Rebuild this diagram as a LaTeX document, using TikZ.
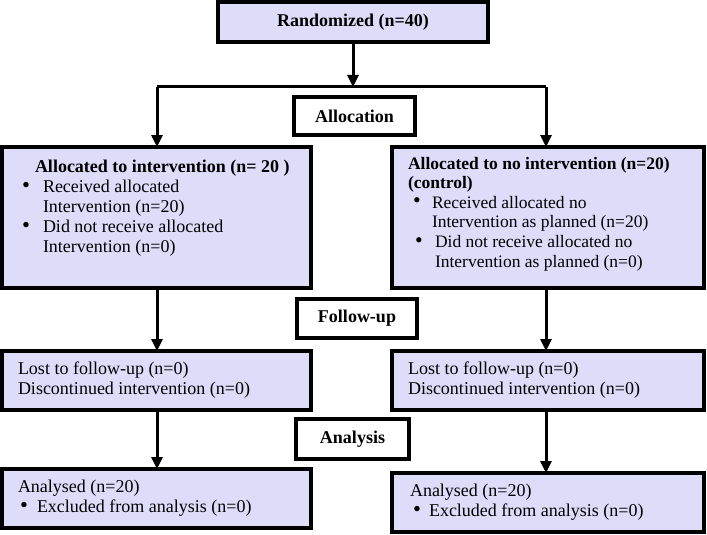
\documentclass[tikz,border=0pt]{standalone}
\usepackage{fontspec}
\setmainfont{Liberation Serif}
\usetikzlibrary{arrows.meta}
\definecolor{boxfill}{RGB}{221,221,250}
\newcommand\bigbul{\raisebox{0.05ex}{\scalebox{1.25}{\textbullet}}}
% #1 hanging indent, #2 bullet offset, #3 text
\newcommand\bitem[3]{\par\hangindent=#1\hangafter=1\noindent\makebox[#1][l]{\hspace{#2}\bigbul}#3}
\begin{document}
\begin{tikzpicture}[x=1pt,y=-1pt,
  every node/.style={font=\fontsize{18}{20}\selectfont},
  box/.style={draw=black, line width=4pt, fill=boxfill, inner sep=0pt, outer sep=0pt, align=left},
  stage/.style={draw=black, line width=4pt, fill=white, inner sep=0pt, outer sep=0pt, font=\fontsize{18}{20}\selectfont\bfseries},
  arr/.style={line width=3pt, -{Triangle[length=12pt,width=11pt]}},
  ln/.style={line width=3pt}]
\useasboundingbox (0,0) rectangle (707,535);

% top
\node[box, align=center, minimum width=270pt, minimum height=40pt, font=\fontsize{18}{20}\selectfont\bfseries] (rand) at (353,22) {Randomized (n=40)};
\coordinate (split) at (353,87);
\coordinate (splitL) at (157,87);
\coordinate (splitR) at (546,87);
\node[stage, minimum width=121pt, minimum height=38pt] (alloc) at (354.5,116) {Allocation};

% allocation boxes
\node[box, minimum width=309pt, minimum height=141pt] (a1) at (156.5,217.5)
 {\parbox[c][141pt][t]{309pt}{\vspace*{13pt}\noindent\hspace*{33pt}\textbf{Allocated to intervention (n= 20 )}%
 \bitem{41pt}{20pt}{Received allocated\\Intervention (n=20)}%
 \bitem{41pt}{20pt}{Did not receive allocated\\Intervention (n=0)}}};
\node[box, minimum width=312pt, minimum height=141pt, font=\fontsize{17.5}{19.6}\selectfont] (a2) at (548,217.5)
 {\parbox[c][141pt][t]{312pt}{\vspace*{10pt}\noindent\hspace*{16pt}\textbf{Allocated to no intervention (n=20)}\\\hspace*{16pt}\textbf{(control)}%
 \bitem{40pt}{21pt}{Received allocated no\\Intervention as planned (n=20)}%
 \bitem{43pt}{23pt}{Did not receive allocated no\\Intervention as planned (n=0)}}};

% follow-up
\node[stage, minimum width=120pt, minimum height=39pt] (fu) at (357,318.5) {Follow-up};
\node[box, minimum width=309pt, minimum height=59pt] (l1) at (156.5,380.5)
 {\parbox{309pt}{\leftskip=16pt Lost to follow-up (n=0)\\Discontinued intervention (n=0)\par}};
\node[box, minimum width=312pt, minimum height=59pt] (l2) at (548,380.5)
 {\parbox{312pt}{\leftskip=16pt Lost to follow-up (n=0)\\Discontinued intervention (n=0)\par}};

% analysis
\node[stage, minimum width=113pt, minimum height=40pt] (an) at (352.5,439) {Analysis};
\node[box, minimum width=309pt, minimum height=59pt] (r1) at (156.5,498.5)
 {\parbox{309pt}{\noindent\hspace*{16pt}Analysed (n=20)\bitem{35pt}{18pt}{Excluded from analysis (n=0)}\par}};
\node[box, minimum width=312pt, minimum height=59pt] (r2) at (548,502.5)
 {\parbox{312pt}{\noindent\hspace*{18pt}Analysed (n=20)\bitem{37pt}{21pt}{Excluded from analysis (n=0)}\par}};

% connectors
\draw[arr] (rand.south -| split) -- (split);
\draw[ln] (splitL) -- (splitR);
\draw[arr] (splitL) -- (splitL |- a1.north);
\draw[arr] (splitR) -- (splitR |- a2.north);
\draw[arr] (a1.south -| splitL) -- (l1.north -| splitL);
\draw[arr] (a2.south -| splitR) -- (l2.north -| splitR);
\draw[arr] (l1.south -| splitL) -- (r1.north -| splitL);
\draw[arr] (l2.south -| splitR) -- (r2.north -| splitR);
\end{tikzpicture}
\end{document}
